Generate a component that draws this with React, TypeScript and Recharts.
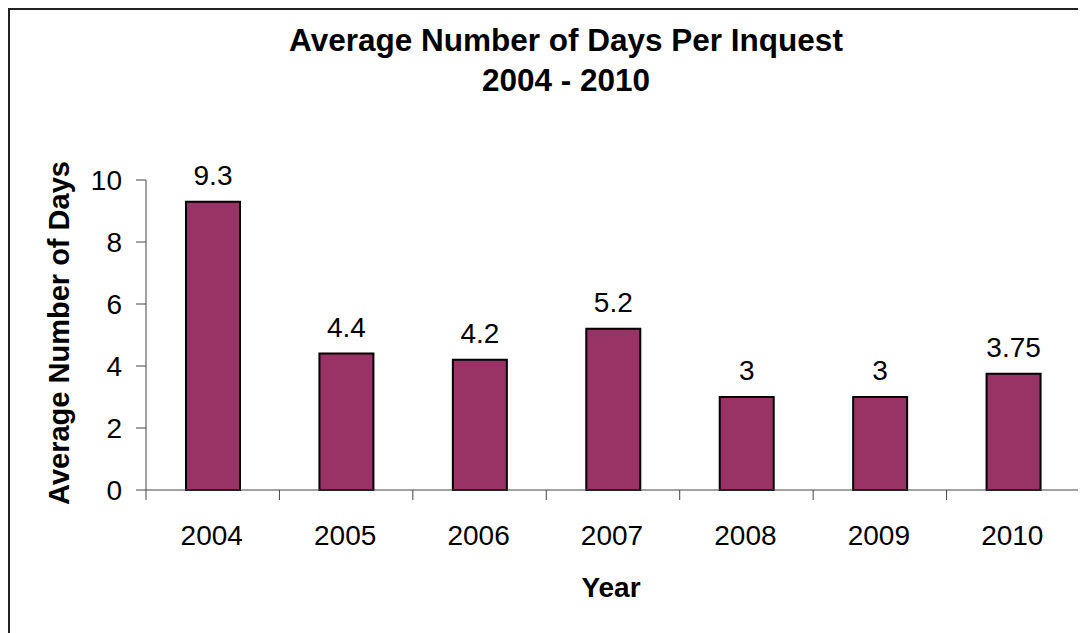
import React from "react";
import { BarChart, Bar, XAxis, YAxis, LabelList } from "recharts";

const years = ["2004", "2005", "2006", "2007", "2008", "2009", "2010"];
const avgDays = [9.3, 4.4, 4.2, 5.2, 3, 3, 3.75];
const yTicks = [0, 2, 4, 6, 8, 10];
const titleLines = ["Average Number of Days Per Inquest", "2004 - 2010"];

const data = years.map((y, i) => ({ year: y, days: avgDays[i] }));

const FONT = "'Liberation Sans', Arial, sans-serif";
const W = 1076;
const H = 623;
const M = { top: 170, right: 6, left: 76, bottom: 83 };
const Y_AXIS_W = 60;
const X_AXIS_H = 60;
const plotW = W - M.left - M.right - Y_AXIS_W;
const band = plotW / years.length;

const XTick = (props: any) => {
  const { x, y, payload, index } = props;
  const left = x - band / 2;
  return (
    <g>
      <line x1={left} y1={y} x2={left} y2={y + 10} stroke="#444" strokeWidth={1} />
      {index === years.length - 1 && (
        <line x1={x + band / 2} y1={y} x2={x + band / 2} y2={y + 10} stroke="#444" strokeWidth={1} />
      )}
      <text x={x - 1} y={y + 55} textAnchor="middle" fontSize={28} fontFamily={FONT} fill="#000">
        {payload.value}
      </text>
    </g>
  );
};

export default function App() {
  return (
    <div
      style={{
        position: "relative",
        width: W,
        height: H,
        borderTop: "2px solid #222",
        borderLeft: "2px solid #222",
        background: "#fff",
        fontFamily: FONT,
      }}
    >
      <div
        style={{
          position: "absolute",
          left: 0,
          width: 1112,
          top: 10,
          textAlign: "center",
          fontWeight: "bold",
          fontSize: 31.5,
          lineHeight: "40px",
          color: "#000",
          whiteSpace: "nowrap",
        }}
      >
        {titleLines.map((t) => (
          <div key={t}>{t}</div>
        ))}
      </div>
      <div
        style={{
          position: "absolute",
          left: 49 - 250,
          top: 323 - 15,
          width: 500,
          textAlign: "center",
          transform: "rotate(-90deg)",
          fontWeight: "bold",
          fontSize: 29,
          lineHeight: "30px",
          color: "#000",
          whiteSpace: "nowrap",
        }}
      >
        Average Number of Days
      </div>
      <div
        style={{
          position: "absolute",
          left: 601 - 100,
          top: 563,
          width: 200,
          textAlign: "center",
          fontWeight: "bold",
          fontSize: 28,
          lineHeight: "30px",
          color: "#000",
        }}
      >
        Year
      </div>
      <div style={{ position: "absolute", left: 0, top: 0 }}>
        <BarChart width={W} height={H} data={data} margin={M}>
          <XAxis
            dataKey="year"
            height={X_AXIS_H}
            tickLine={false}
            tickSize={0}
            tickMargin={0}
            axisLine={{ stroke: "#444", strokeWidth: 1 }}
            tick={<XTick />}
            interval={0}
          />
          <YAxis
            width={Y_AXIS_W}
            domain={[0, 10]}
            ticks={yTicks}
            tickSize={10}
            tickMargin={14}
            axisLine={{ stroke: "#444", strokeWidth: 1 }}
            tickLine={{ stroke: "#444", strokeWidth: 1 }}
            tick={{ fontSize: 28, fontFamily: FONT, fill: "#000" }}
          />
          <Bar dataKey="days" fill="#993366" stroke="#000" strokeWidth={2} barSize={54} isAnimationActive={false}>
            <LabelList dataKey="days" position="top" offset={17} fontSize={28} fontFamily={FONT} fill="#000" />
          </Bar>
        </BarChart>
      </div>
    </div>
  );
}
